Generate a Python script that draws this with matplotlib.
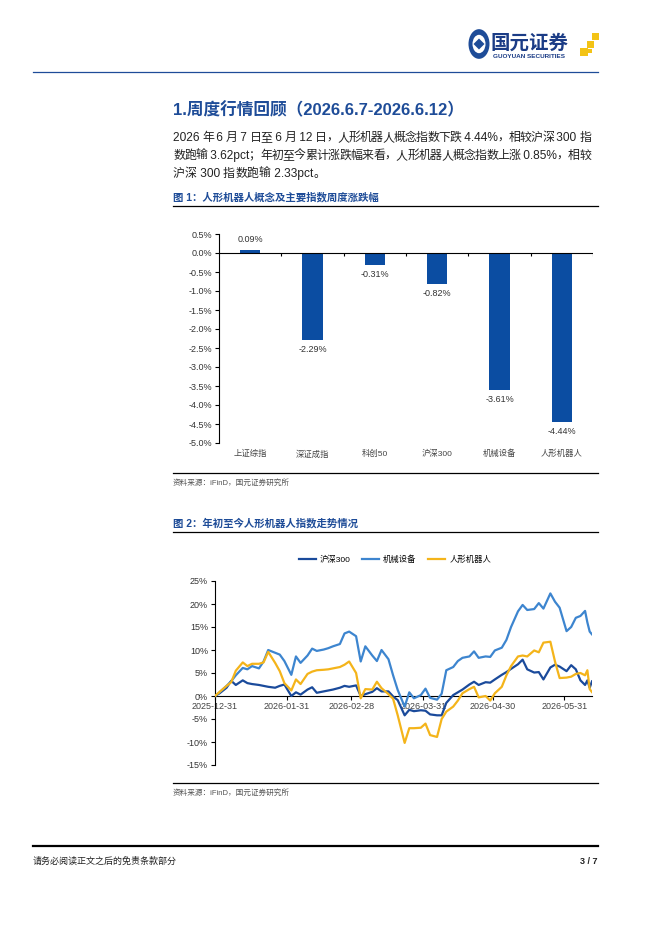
import matplotlib
matplotlib.use('Agg')
import matplotlib.pyplot as plt
from matplotlib.patches import Circle, Rectangle, Polygon
from matplotlib.lines import Line2D
import numpy as np
import pandas as pd

W, H = 662, 936
plt.rcParams['font.family'] = ['Liberation Sans', 'Noto Sans CJK SC', 'DejaVu Sans']

# ---------------- data ----------------
bar_categories = ['上证综指', '深证成指', '科创50', '沪深300', '机械设备', '人形机器人']
bar_values = [0.09, -2.29, -0.31, -0.82, -3.61, -4.44]
bar_yticks = [0.5, 0.0, -0.5, -1.0, -1.5, -2.0, -2.5, -3.0, -3.5, -4.0, -4.5, -5.0]

line_dates = [
    '2025-12-31', '2026-01-02', '2026-01-05', '2026-01-07', '2026-01-09', '2026-01-12',
    '2026-01-14', '2026-01-16', '2026-01-19', '2026-01-21', '2026-01-23', '2026-01-26',
    '2026-01-28', '2026-01-30', '2026-02-02', '2026-02-04', '2026-02-06', '2026-02-09',
    '2026-02-11', '2026-02-13', '2026-02-16', '2026-02-18', '2026-02-20', '2026-02-23',
    '2026-02-25', '2026-02-27', '2026-03-02', '2026-03-04', '2026-03-06', '2026-03-09',
    '2026-03-11', '2026-03-13', '2026-03-16', '2026-03-18', '2026-03-20', '2026-03-23',
    '2026-03-25', '2026-03-27', '2026-03-30', '2026-04-01', '2026-04-03', '2026-04-06',
    '2026-04-08', '2026-04-10', '2026-04-13', '2026-04-15', '2026-04-17', '2026-04-20',
    '2026-04-22', '2026-04-24', '2026-04-27', '2026-04-29', '2026-05-01', '2026-05-04',
    '2026-05-06', '2026-05-08', '2026-05-11', '2026-05-13', '2026-05-15', '2026-05-18',
    '2026-05-20', '2026-05-22', '2026-05-25', '2026-05-27', '2026-05-29', '2026-06-01',
    '2026-06-03', '2026-06-05', '2026-06-07', '2026-06-09', '2026-06-10', '2026-06-11',
    '2026-06-12']

hs300 = [
    0.0, 0.6, 1.8, 3.3, 2.4, 3.4, 2.8, 2.6, 2.4, 2.2, 2.0, 1.8,
    2.2, 2.5, 0.0, 0.8, 0.3, 1.4, 1.9, 0.7, 1.0, 1.2, 1.4, 1.8,
    2.2, 2.0, 2.3, 0.0, 0.4, 0.9, 1.7, 1.0, 1.0, -0.1, -0.9, -4.2,
    -3.0, -3.3, -3.1, -3.2, -4.0, -4.2, -4.2, -1.5, 0.2, 0.8, 1.4, 2.5,
    3.1, 2.4, 3.0, 2.9, 3.6, 4.6, 5.2, 5.9, 6.9, 7.9, 5.8, 5.1,
    5.2, 3.6, 6.2, 6.8, 6.4, 5.4, 6.7, 5.8, 3.4, 2.4, 3.4, 1.8,
    3.18]

machinery = [
    0.0, 0.8, 2.2, 3.2, 4.5, 6.1, 5.8, 6.5, 6.0, 7.5, 10.0, 9.4,
    9.0, 7.6, 4.6, 8.6, 7.2, 8.8, 10.3, 9.8, 10.1, 10.4, 10.8, 11.3,
    13.6, 14.0, 13.0, 7.5, 10.8, 8.8, 7.6, 10.0, 8.0, 4.5, 1.3, -2.3,
    0.8, -0.5, 0.2, 1.6, -0.4, -0.8, 0.5, 5.6, 6.3, 7.6, 8.3, 8.6,
    9.7, 8.3, 8.6, 8.5, 9.9, 10.5, 12.2, 15.0, 18.4, 19.8, 18.7, 18.9,
    20.2, 19.0, 22.3, 20.5, 19.2, 14.1, 15.0, 17.0, 17.4, 18.5, 16.0, 14.0,
    13.4]

humanoid = [
    0.0, 0.9, 2.2, 3.0, 5.5, 7.3, 6.5, 7.0, 7.0, 7.3, 9.6, 7.2,
    5.4, 2.8, 1.2, 3.6, 2.6, 4.8, 5.3, 5.6, 5.7, 5.8, 6.0, 6.3,
    6.8, 7.5, 5.0, -0.5, 1.5, 1.4, 3.1, 1.7, 0.4, -0.6, -4.2, -10.2,
    -7.0, -7.0, -6.9, -6.0, -8.5, -8.9, -5.0, -3.4, -2.3, -1.0, 0.6, 1.5,
    2.0, -0.3, 0.0, -1.0, 0.6, 2.0, 4.5, 6.5, 8.6, 8.8, 8.6, 9.9,
    9.5, 11.6, 11.8, 7.5, 3.9, 4.0, 4.2, 4.8, 5.0, 4.5, 5.6, 1.5,
    0.85]

line_series_names = ['沪深300', '机械设备', '人形机器人']
line_xticks = ['2025-12-31', '2026-01-31', '2026-02-28', '2026-03-31', '2026-04-30', '2026-05-31']
line_yticks = [25, 20, 15, 10, 5, 0, -5, -10, -15]

# ---------------- figure ----------------
fig = plt.figure(figsize=(W / 100, H / 100), dpi=100)

def fx(x):
    return x / W

def fy(y):
    return 1 - y / H

def add_ax(x0, y0, x1, y1):
    return fig.add_axes([fx(x0), fy(y1), (x1 - x0) / W, (y1 - y0) / H])

def hline(x0, x1, y, color='black', lw=1.0):
    fig.add_artist(Line2D([fx(x0), fx(x1)], [fy(y), fy(y)], color=color, lw=lw,
                          transform=fig.transFigure))

BLUE = '#1E4C98'
TXT = '#222222'

# ---------- header ----------
hline(33, 598, 72, color=BLUE, lw=0.9)
fig.add_artist(Circle((fx(479), fy(44)), 10.5 / W, transform=fig.transFigure,
                      facecolor=BLUE, edgecolor='none'))
fig.add_artist(Circle((fx(479), fy(44)), 6.5 / W, transform=fig.transFigure,
                      facecolor='white', edgecolor='none'))
fig.add_artist(Polygon([(fx(479), fy(38.5)), (fx(484.5), fy(44)), (fx(479), fy(49.5)), (fx(473.5), fy(44))],
                       closed=True, transform=fig.transFigure, facecolor=BLUE, edgecolor='none'))
fig.text(fx(491), fy(43), '国元证券', fontsize=14, fontweight='bold', color='#1B3C86',
         ha='left', va='center', family=['Noto Sans CJK SC'])
fig.text(fx(493), fy(57), 'GUOYUAN SECURITIES', fontsize=4.6, fontweight='bold', color='#1B3C86',
         ha='left', va='center')
for (sx, sy, s) in [(580, 48, 8), (587, 41, 6.5), (592, 33, 7), (588, 49, 4)]:
    fig.add_artist(Rectangle((fx(sx), fy(sy + s)), s / W, s / H, transform=fig.transFigure,
                             facecolor='#F3C316', edgecolor='none'))

# ---------- title & body ----------
fig.text(fx(173), fy(110), '1.周度行情回顾（2026.6.7-2026.6.12）', fontsize=12, fontweight='bold',
         color=BLUE, ha='left', va='center')

body_lines = [
    '2026 年 6 月 7 日至 6 月 12 日，人形机器人概念指数下跌 4.44%，相较沪深 300 指',
    '数跑输 3.62pct；年初至今累计涨跌幅来看，人形机器人概念指数上涨 0.85%，相较',
    '沪深 300 指数跑输 2.33pct。',
]
body_y = [138, 156, 174]
body_x0, body_x1 = 173, 591

renderer = fig.canvas.get_renderer()

def tokens_of(s):
    toks = []
    cur = ''
    for ch in s:
        if ord(ch) < 128:
            cur += ch
        else:
            if cur:
                toks.append(cur)
                cur = ''
            toks.append(ch)
    if cur:
        toks.append(cur)
    return toks

for i, (line, yy) in enumerate(zip(body_lines, body_y)):
    toks = tokens_of(line)
    objs = [fig.text(0, fy(yy), t, fontsize=8.6, color=TXT, ha='left', va='center') for t in toks]
    widths = [o.get_window_extent(renderer).width for o in objs]
    justify = i < len(body_lines) - 1
    total = sum(widths)
    gap = (body_x1 - body_x0 - total) / (len(toks) - 1) if justify else 0.0
    x = body_x0
    for o, w in zip(objs, widths):
        o.set_x(fx(x))
        x += w + gap

# ---------- figure 1 caption ----------
fig.text(fx(173), fy(197), '图 1：人形机器人概念及主要指数周度涨跌幅', fontsize=7.5, fontweight='bold',
         color=BLUE, ha='left', va='center')
hline(173, 598, 206, lw=0.9)

# ---------- bar chart ----------
ax1 = add_ax(219, 234, 593, 443)
xpos = np.arange(len(bar_categories))
ax1.bar(xpos, bar_values, width=0.33, color='#0B4DA2', zorder=2)
ax1.set_xlim(-0.5, len(bar_categories) - 0.5)
ax1.set_ylim(-5.0, 0.5)
ax1.set_yticks(bar_yticks)
ax1.set_yticklabels([f'{v:.1f}%' for v in bar_yticks])
ax1.set_xticks(xpos)
ax1.set_xticklabels(bar_categories)
for s in ['top', 'right', 'bottom']:
    ax1.spines[s].set_visible(False)
ax1.spines['left'].set_linewidth(0.8)
ax1.tick_params(axis='y', length=3, width=0.8, labelsize=6.5, labelcolor='#333333', pad=2)
ax1.tick_params(axis='x', length=0, labelsize=6, labelcolor='#444444', pad=5)
ax1.axhline(0, color='black', lw=0.8, zorder=3)
ax1.vlines(xpos + 0.5, -0.07, 0, color='black', lw=0.8, zorder=3)
for xi, v in zip(xpos, bar_values):
    ax1.annotate(f'{v:.2f}%', (xi, v), xytext=(0, 7 if v >= 0 else -7), textcoords='offset points',
                 ha='center', va='center', fontsize=6.5, color='#333333')
ax1.patch.set_alpha(0)

hline(173, 598, 473, lw=0.9)
fig.text(fx(173), fy(483), '资料来源：iFinD，国元证券研究所', fontsize=5.5, color='#555555',
         ha='left', va='center')

# ---------- figure 2 caption ----------
fig.text(fx(173), fy(523), '图 2：年初至今人形机器人指数走势情况', fontsize=7.5, fontweight='bold',
         color=BLUE, ha='left', va='center')
hline(173, 598, 532, lw=0.9)

# ---------- line chart ----------
ax2 = add_ax(215, 581, 592, 765)
dates = pd.to_datetime(line_dates)
colors = ['#1A4A9B', '#3D85CF', '#F4B41A']
for series, name, c in zip([hs300, machinery, humanoid], line_series_names, colors):
    ax2.plot(dates, series, color=c, lw=1.6, label=name, zorder=3, solid_joinstyle='round')
ax2.set_xlim(pd.Timestamp(line_dates[0]), pd.Timestamp(line_dates[-1]))
ax2.set_ylim(-15, 25)
ax2.set_yticks(line_yticks)
ax2.set_yticklabels([f'{v}%' for v in line_yticks])
xt = pd.to_datetime(line_xticks)
ax2.set_xticks(xt)
ax2.set_xticklabels(line_xticks)
for s in ['top', 'right']:
    ax2.spines[s].set_visible(False)
ax2.spines['bottom'].set_position(('data', 0))
ax2.spines['bottom'].set_linewidth(0.8)
ax2.spines['bottom'].set_zorder(2)
ax2.spines['left'].set_linewidth(0.8)
ax2.set_axisbelow(True)
ax2.tick_params(axis='y', length=3, width=0.8, labelsize=6.5, labelcolor='#333333', pad=2)
ax2.tick_params(axis='x', length=3, width=0.8, labelsize=6.5, labelcolor='#444444', pad=1.5)
ax2.patch.set_alpha(0)

fig.legend(loc='center', bbox_to_anchor=(fx(395), fy(560)), bbox_transform=fig.transFigure,
           ncol=3, frameon=False, fontsize=6, handlelength=2.0, handletextpad=0.5,
           columnspacing=1.4)

hline(173, 598, 783, lw=0.9)
fig.text(fx(173), fy(793), '资料来源：iFinD，国元证券研究所', fontsize=5.5, color='#555555',
         ha='left', va='center')

# ---------- footer ----------
hline(33, 598, 846, lw=1.6)
fig.text(fx(33), fy(861), '请务必阅读正文之后的免责条款部分', fontsize=6.5, color='#222222',
         ha='left', va='center')
fig.text(fx(598), fy(861), '3 / 7', fontsize=6.5, fontweight='bold', color='#222222',
         ha='right', va='center')

fig.savefig('out.png', dpi=100)
